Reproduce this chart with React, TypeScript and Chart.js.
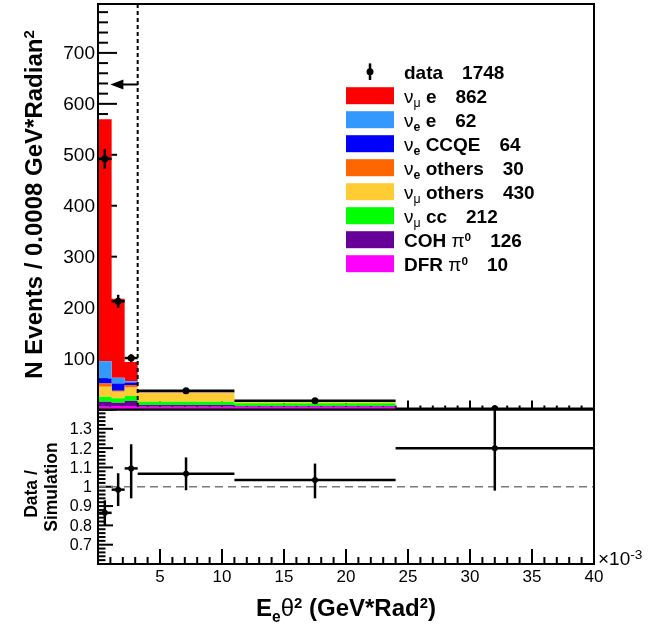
import { useEffect, useRef } from "react";
import { Chart, registerables } from "chart.js";

Chart.register(...registerables);

const W = 663;
const H = 630;
const FONT = '"Liberation Sans", Arial, Helvetica, sans-serif';

// ---------------- data (x in units of 1e-3 GeV*rad^2) ----------------
const binEdges = [0, 1.1, 2.15, 3.2, 11, 24, 40];
// simulated stack, events / 0.0008 GeV*rad^2, listed bottom -> top
const dfrPi0 = [5.5, 6.8, 6.8, 5.5, 5.5, 0.3];
const cohPi0 = [9.7, 6.5, 9.8, 3.3, 1.3, 0.1];
const numuCC = [9.8, 8.6, 9.8, 6.4, 5.3, 0.3];
const numuOthers = [19.5, 12.9, 17.0, 17.6, 4.0, 0.4];
const nueOthers = [6.7, 1.9, 4.5, 0.7, 0.1, 0.05];
const nueCCQE = [9.8, 14.5, 5.2, 0.7, 0.1, 0.03];
const nueE = [33.7, 10.9, 2.6, 0.3, 0.05, 0.02];
const numuE = [475.3, 155.1, 37.7, 0.6, 0.1, 0.05];

const dataValues = [492, 212.5, 101, 37, 17, 1.5];
const dataErrors = [19.5, 12.7, 7.5, 2, 1, 0.3];

const ratioValues = [0.865, 0.985, 1.095, 1.067, 1.035, 1.2];
const ratioErrUp = [0.065, 0.085, 0.125, 0.085, 0.085, 0.22];
const ratioErrDown = [0.065, 0.085, 0.155, 0.085, 0.095, 0.22];

const stackLabels = ["DFR π^{0}", "COH π^{0}", "ν_{μ} cc", "ν_{μ} others", "ν_{e} others", "ν_{e} CCQE", "ν_{e} e", "ν_{μ} e"];
const stackCounts = [10, 126, 212, 430, 30, 64, 62, 862];
const stackColors = ["#ff00ff", "#660099", "#00ff00", "#ffcc33", "#ff6600", "#0000ff", "#3399ff", "#ff0000"];
const dataLabel = "data";
const dataCount = 1748;

const topYTickLabels = [100, 200, 300, 400, 500, 600, 700];
const xTickLabels = [5, 10, 15, 20, 25, 30, 35, 40];
const ratioTickLabels = ["0.7", "0.8", "0.9", "1", "1.1", "1.2", "1.3"];

const X_MIN = 0;
const X_MAX = 40;
const TOP_Y_MAX = 796;
const RATIO_MIN = 0.6;
const RATIO_MAX = 1.4;
const refRatio = 1;
const cutValue = 3.2;
const arrowTip = 1.0;
const arrowLevel = 638;

const yTitle = "N Events / 0.0008 GeV*Radian^{2}";
const xTitle = "E_{e}θ^{2} (GeV*Rad^{2})";
const xScaleNote = "×10^{-3}";

// ---------------- rich text helpers ----------------
type Seg = { t: string; size: number; bold: boolean; dy: number };
const GREEK = /[\u0370-\u03ff]/;
function rich(label: string, size: number, bold = true, supScale = 0.62): Seg[] {
  const out: Seg[] = [];
  const parts = label.split(/(_\{[^}]*\}|\^\{[^}]*\})/).filter(Boolean);
  for (const p of parts) {
    let t = p;
    let s = size;
    let dy = 0;
    if (p.startsWith("_{")) {
      t = p.slice(2, -1);
      s = size * 0.65;
      dy = size * 0.25;
    } else if (p.startsWith("^{")) {
      t = p.slice(2, -1);
      s = size * supScale;
      dy = -size * 0.32;
    }
    for (const q of t.split(/([\u0370-\u03ff])/).filter(Boolean)) {
      out.push({ t: q, size: s, bold: bold && !GREEK.test(q), dy });
    }
  }
  return out;
}
function segFont(s: Seg) {
  return `${s.bold ? "bold " : ""}${s.size}px ${FONT}`;
}
function drawRich(ctx: CanvasRenderingContext2D, segs: Seg[], x: number, y: number, align: "left" | "center" | "right" = "left") {
  const widths = segs.map((s) => {
    ctx.font = segFont(s);
    return ctx.measureText(s.t).width;
  });
  const total = widths.reduce((a, b) => a + b, 0);
  let cx = align === "left" ? x : align === "center" ? x - total / 2 : x - total;
  ctx.textAlign = "left";
  ctx.textBaseline = "alphabetic";
  segs.forEach((s, i) => {
    ctx.font = segFont(s);
    ctx.fillText(s.t, cx, y + s.dy);
    cx += widths[i];
  });
  return total;
}

function line(ctx: CanvasRenderingContext2D, x1: number, y1: number, x2: number, y2: number) {
  ctx.beginPath();
  ctx.moveTo(x1, y1);
  ctx.lineTo(x2, y2);
  ctx.stroke();
}

// ---------------- plugins ----------------
const topPlugin = {
  id: "topDecor",
  beforeDatasetsDraw(chart: any) {
    const { ctx, chartArea: a, scales } = chart;
    const xs = scales.x;
    const ys = scales.y;
    ctx.save();
    ctx.strokeStyle = "#000";
    ctx.lineWidth = 2;
    for (let i = 0; i <= 40; i++) {
      const v = X_MIN + i;
      if (v > X_MAX) break;
      const px = xs.getPixelForValue(v);
      const len = i % 5 === 0 ? 9 : 4;
      line(ctx, px, a.bottom, px, a.bottom - len);
    }
    for (let i = 0; i * 20 <= TOP_Y_MAX; i++) {
      const py = ys.getPixelForValue(i * 20);
      const len = i % 5 === 0 ? 19 : 10;
      line(ctx, a.left, py, a.left + len, py);
    }
    ctx.restore();
  },
  beforeDatasetDraw(chart: any, args: any) {
    if (args.index !== 0) return;
    const { ctx, scales } = chart;
    const xs = scales.x;
    const ys = scales.y;
    ctx.save();
    ctx.strokeStyle = "#000";
    ctx.lineWidth = 2.5;
    dataValues.forEach((v, i) => {
      const x0 = xs.getPixelForValue(binEdges[i]);
      const x1 = xs.getPixelForValue(binEdges[i + 1]);
      const xc = xs.getPixelForValue((binEdges[i] + binEdges[i + 1]) / 2);
      const py = ys.getPixelForValue(v);
      line(ctx, x0, py, x1, py);
      line(ctx, xc, ys.getPixelForValue(v - dataErrors[i]), xc, ys.getPixelForValue(v + dataErrors[i]));
    });
    ctx.restore();
  },
  afterDatasetsDraw(chart: any) {
    const { ctx, chartArea: a, scales } = chart;
    const xs = scales.x;
    const ys = scales.y;
    ctx.save();
    // cut line
    const cx = xs.getPixelForValue(cutValue);
    ctx.strokeStyle = "#000";
    ctx.lineWidth = 2;
    ctx.setLineDash([4, 3]);
    line(ctx, cx, a.top, cx, a.bottom);
    ctx.setLineDash([]);
    // arrow
    const ay = ys.getPixelForValue(arrowLevel);
    const tip = xs.getPixelForValue(arrowTip);
    line(ctx, cx, ay, tip + 10, ay);
    ctx.fillStyle = "#000";
    ctx.beginPath();
    ctx.moveTo(tip, ay);
    ctx.lineTo(tip + 13, ay - 5);
    ctx.lineTo(tip + 13, ay + 5);
    ctx.closePath();
    ctx.fill();
    // frame
    ctx.lineWidth = 2;
    ctx.strokeRect(a.left, a.top, a.right - a.left, a.bottom - a.top);
    // legend
    const textX = 404;
    const rowStart = 71.7;
    const rowStep = 24;
    const size = 19;
    ctx.lineWidth = 2.5;
    line(ctx, 370, rowStart - 8.3, 370, rowStart + 8.3);
    ctx.beginPath();
    ctx.arc(370, rowStart, 3.5, 0, Math.PI * 2);
    ctx.fill();
    let w = drawRich(ctx, rich(dataLabel, size), textX, rowStart + 7);
    drawRich(ctx, rich(String(dataCount), size), textX + w + 19, rowStart + 7);
    for (let r = 0; r < stackLabels.length; r++) {
      const k = stackLabels.length - 1 - r;
      const cy = rowStart + rowStep * (r + 1);
      ctx.fillStyle = stackColors[k];
      ctx.fillRect(346, cy - 8.5, 48, 17);
      ctx.fillStyle = "#000";
      w = drawRich(ctx, rich(stackLabels[k], size), textX, cy + 7);
      drawRich(ctx, rich(String(stackCounts[k]), size), textX + w + 19, cy + 7);
    }
    ctx.restore();
  },
  afterDraw(chart: any) {
    const { ctx, chartArea: a, scales } = chart;
    const ys = scales.y;
    ctx.save();
    ctx.fillStyle = "#000";
    ctx.font = `19px ${FONT}`;
    ctx.textAlign = "right";
    ctx.textBaseline = "middle";
    topYTickLabels.forEach((v) => {
      ctx.fillText(String(v), a.left - 3, ys.getPixelForValue(v) + 1);
    });
    ctx.translate(42, 204.5);
    ctx.rotate(-Math.PI / 2);
    drawRich(ctx, rich(yTitle, 24), 0, 0, "center");
    ctx.restore();
  },
};

const ratioPlugin = {
  id: "ratioDecor",
  beforeDatasetsDraw(chart: any) {
    const { ctx, chartArea: a, scales } = chart;
    const xs = scales.x;
    const ys = scales.y;
    ctx.save();
    ctx.strokeStyle = "#000";
    ctx.lineWidth = 2;
    for (let i = 0; i <= 40; i++) {
      const px = xs.getPixelForValue(X_MIN + i);
      const len = i % 5 === 0 ? 15 : 7;
      line(ctx, px, a.bottom, px, a.bottom - len);
    }
    for (let i = 0; i <= 40; i++) {
      const v = RATIO_MIN + i * 0.02;
      const py = ys.getPixelForValue(v);
      const len = i % 5 === 0 ? 15 : 7.5;
      line(ctx, a.left, py, a.left + len, py);
    }
    ctx.restore();
  },
  beforeDatasetDraw(chart: any, args: any) {
    if (args.index !== 0) return;
    const { ctx, scales } = chart;
    const xs = scales.x;
    const ys = scales.y;
    ctx.save();
    ctx.strokeStyle = "#000";
    ctx.lineWidth = 2.5;
    ratioValues.forEach((v, i) => {
      const x0 = xs.getPixelForValue(binEdges[i]);
      const x1 = xs.getPixelForValue(binEdges[i + 1]);
      const xc = xs.getPixelForValue((binEdges[i] + binEdges[i + 1]) / 2);
      const py = ys.getPixelForValue(v);
      line(ctx, x0, py, x1, py);
      line(ctx, xc, ys.getPixelForValue(v - ratioErrDown[i]), xc, ys.getPixelForValue(v + ratioErrUp[i]));
    });
    ctx.restore();
  },
  afterDatasetsDraw(chart: any) {
    const { ctx, chartArea: a } = chart;
    ctx.save();
    ctx.strokeStyle = "#000";
    ctx.lineWidth = 2;
    ctx.strokeRect(a.left, a.top, a.right - a.left, a.bottom - a.top);
    ctx.restore();
  },
  afterDraw(chart: any) {
    const { ctx, chartArea: a, scales } = chart;
    const xs = scales.x;
    const ys = scales.y;
    ctx.save();
    ctx.fillStyle = "#000";
    ctx.font = `16px ${FONT}`;
    ctx.textAlign = "right";
    ctx.textBaseline = "middle";
    ratioTickLabels.forEach((t) => {
      ctx.fillText(t, a.left - 6, ys.getPixelForValue(parseFloat(t)) + 1);
    });
    ctx.font = `17px ${FONT}`;
    ctx.textAlign = "center";
    xTickLabels.forEach((v) => {
      ctx.fillText(String(v), xs.getPixelForValue(v), 577);
    });
    // x10^-3
    drawRich(ctx, rich(xScaleNote, 19, false, 0.72), a.right + 4, 565);
    // x title
    drawRich(ctx, rich(xTitle, 24), 346, 616, "center");
    // y title (two lines)
    ctx.save();
    ctx.translate(37, 494);
    ctx.rotate(-Math.PI / 2);
    drawRich(ctx, rich("Data /", 17.5), 0, 0, "center");
    ctx.restore();
    ctx.save();
    ctx.translate(57, 487);
    ctx.rotate(-Math.PI / 2);
    drawRich(ctx, rich("Simulation", 17.5), 0, 0, "center");
    ctx.restore();
    ctx.restore();
  },
};

export default function App() {
  const topRef = useRef<HTMLCanvasElement>(null);
  const ratioRef = useRef<HTMLCanvasElement>(null);

  useEffect(() => {
    if (!topRef.current || !ratioRef.current) return;
    const centers = binEdges.slice(0, -1).map((e, i) => (e + binEdges[i + 1]) / 2);

    const stacks = [dfrPi0, cohPi0, numuCC, numuOthers, nueOthers, nueCCQE, nueE, numuE];
    let cum = new Array(binEdges.length - 1).fill(0);
    const stackDatasets = stacks.map((vals, k) => {
      cum = cum.map((c: number, i: number) => c + vals[i]);
      const snapshot = cum.slice();
      return {
        data: binEdges.map((e, i) => ({ x: e, y: snapshot[Math.min(i, snapshot.length - 1)] })),
        stepped: true,
        fill: k === 0 ? "origin" : k,
        backgroundColor: stackColors[k],
        borderColor: stackColors[k],
        borderWidth: 0,
        pointRadius: 0,
      };
    });

    const top = new Chart(topRef.current, {
      type: "line",
      data: {
        datasets: [
          {
            data: centers.map((x, i) => ({ x, y: dataValues[i] })),
            showLine: false,
            pointRadius: 3.5,
            pointBackgroundColor: "#000",
            pointBorderColor: "#000",
            pointBorderWidth: 0,
          } as any,
          ...(stackDatasets as any[]),
        ],
      },
      options: {
        responsive: false,
        animation: false,
        events: [],
        layout: { padding: { left: 98, right: W - 594, top: 2, bottom: H - 409.5 } },
        scales: {
          x: { type: "linear", min: X_MIN, max: X_MAX, display: false },
          y: { type: "linear", min: 0, max: TOP_Y_MAX, display: false },
        },
        plugins: { legend: { display: false }, tooltip: { enabled: false } },
      },
      plugins: [topPlugin as any],
    });

    const ratio = new Chart(ratioRef.current, {
      type: "line",
      data: {
        datasets: [
          {
            data: centers.map((x, i) => ({ x, y: ratioValues[i] })),
            showLine: false,
            pointRadius: 3,
            pointBackgroundColor: "#000",
            pointBorderColor: "#000",
            pointBorderWidth: 0,
          } as any,
          {
            data: [
              { x: X_MIN, y: refRatio },
              { x: X_MAX, y: refRatio },
            ],
            borderColor: "#7a7a7a",
            borderWidth: 1.5,
            borderDash: [8, 5],
            pointRadius: 0,
            fill: false,
          } as any,
        ],
      },
      options: {
        responsive: false,
        animation: false,
        events: [],
        layout: { padding: { left: 98, right: W - 594, top: 409.5, bottom: H - 564 } },
        scales: {
          x: { type: "linear", min: X_MIN, max: X_MAX, display: false },
          y: { type: "linear", min: RATIO_MIN, max: RATIO_MAX, display: false },
        },
        plugins: { legend: { display: false }, tooltip: { enabled: false } },
      },
      plugins: [ratioPlugin as any],
    });

    return () => {
      top.destroy();
      ratio.destroy();
    };
  }, []);

  return (
    <div style={{ position: "fixed", left: 0, top: 0, width: W, height: H, background: "#fff" }}>
      <canvas ref={ratioRef} width={W} height={H} style={{ position: "absolute", left: 0, top: 0 }} />
      <canvas ref={topRef} width={W} height={H} style={{ position: "absolute", left: 0, top: 0 }} />
    </div>
  );
}
